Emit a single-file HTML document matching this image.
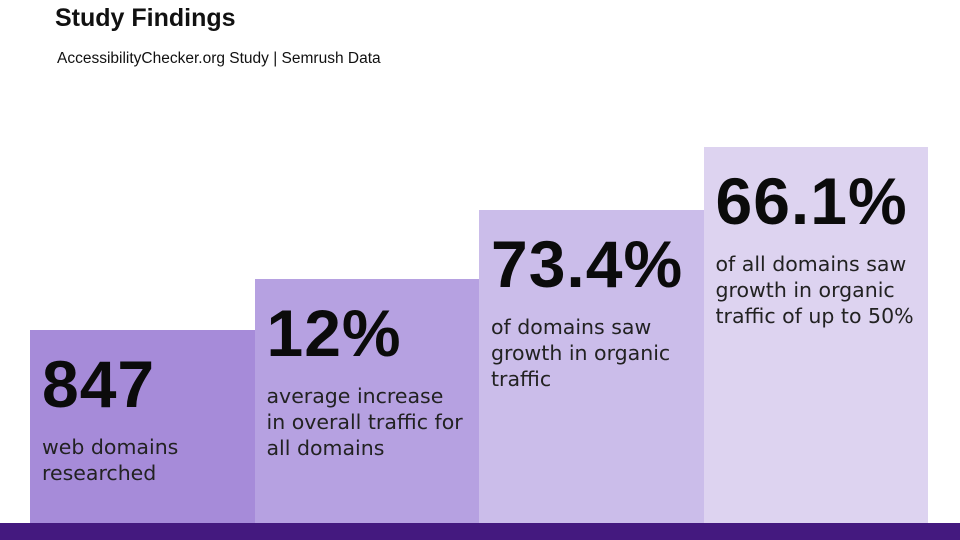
<!DOCTYPE html>
<html><head><meta charset="utf-8"><style>
body{margin:0;width:960px;height:540px;overflow:hidden;background:#fff;font-family:"Liberation Sans",sans-serif;position:relative}
.t{position:absolute;left:55px;top:4px;font-size:25px;font-weight:bold;color:#111}
.s{position:absolute;left:57px;top:50px;font-size:15.5px;color:#111}
.bar{position:absolute;bottom:17px}
.big{position:absolute;left:12px;font-size:66px;font-weight:bold;color:#0b0b0b;line-height:1;letter-spacing:1px}
.lab{position:absolute;left:12px;font-family:"DejaVu Sans",sans-serif;font-size:20.5px;color:#222;line-height:26px}
.foot{position:absolute;left:0;top:523px;width:960px;height:17px;background:#44197f}
</style></head><body>
<div class="t">Study Findings</div>
<div class="s">AccessibilityChecker.org Study | Semrush Data</div>
<div id="bars"></div>
<div class="foot"></div>
<script>
const values=["847","12%","73.4%","66.1%"];
const labels=[["web domains","researched"],["average increase","in overall traffic for","all domains"],["of domains saw","growth in organic","traffic"],["of all domains saw","growth in organic","traffic of up to 50%"]];
const steps=[193,244,313,376];
const colors=["#a68bd9","#b6a1e1","#cbbdea","#ddd3f0"];
const c=document.getElementById('bars');
const x0=30,w=224.5;
values.forEach((v,i)=>{
 const b=document.createElement('div');
 
 
 b.className='bar';
 b.style.left=(x0+i*w)+'px';b.style.width=w+'px';b.style.height=steps[i]+'px';b.style.background=colors[i];
 const n=document.createElement('div');
 
 
 n.className='big';n.style.top='21px';n.textContent=v;b.appendChild(n);
 const l=document.createElement('div');
 
 
 l.className='lab';l.style.top='104px';l.innerHTML=labels[i].join('<br>');b.appendChild(l);
 c.appendChild(b);
});
</script>
</body></html>
